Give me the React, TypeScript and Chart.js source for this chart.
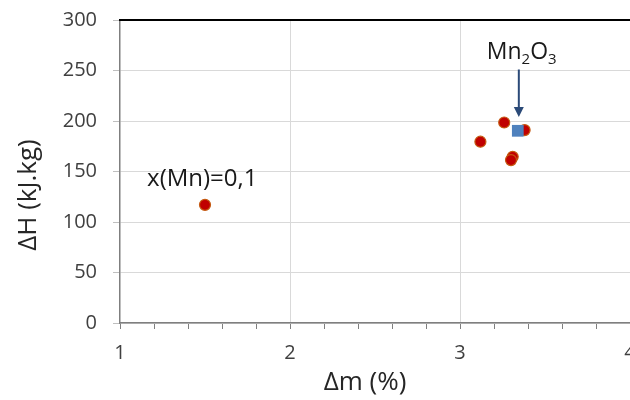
import React, { useEffect, useRef } from "react";
import { Chart, registerables } from "chart.js";

Chart.register(...registerables);

// ---- data ----
const sampleDm = [1.5, 3.12, 3.26, 3.38, 3.31, 3.3];
const sampleDh = [117, 179.5, 198.5, 191, 164.5, 161.3];
const oxideDm = [3.34];
const oxideDh = [190.3];

const xTicksMajor = [1, 2, 3, 4];
const yTickValues = [0, 50, 100, 150, 200, 250, 300];

const xTitle = "Δm (%)";
const yTitle = "ΔH (kJ.kg)";
const labelSample = "x(Mn)=0,1";
const labelOxide = ["Mn", "2", "O", "3"];
const labelSamplePos = { x: 1.484, y: 135.5 };
const labelOxidePos = { x: 3.363, y: 261.5 };
const arrowFrom = { x: 3.346, y: 251 };
const arrowTo = { x: 3.346, y: 204 };

const FONT = "'Open Sans', 'DejaVu Sans', sans-serif";

const isInt = (v: number) => Math.abs(v - Math.round(v)) < 1e-6;

const annotationPlugin = {
  id: "annots",
  afterDraw(chart: any) {
    const { ctx, chartArea, scales } = chart;
    const xs = scales.x;
    const ys = scales.y;
    ctx.save();
    // top frame line
    ctx.strokeStyle = "#000000";
    ctx.lineWidth = 2;
    ctx.beginPath();
    ctx.moveTo(chartArea.left - 1, chartArea.top);
    ctx.lineTo(chartArea.right + 30, chartArea.top);
    ctx.stroke();

    // axis titles
    ctx.fillStyle = "#262626";
    ctx.font = `26px ${FONT}`;
    ctx.textAlign = "center";
    ctx.textBaseline = "middle";
    ctx.fillText(xTitle, 365, 383);
    ctx.save();
    ctx.translate(29, 195);
    ctx.rotate(-Math.PI / 2);
    ctx.fillText(yTitle, 0, 0);
    ctx.restore();

    // sample label
    ctx.fillStyle = "#1a1a1a";
    ctx.font = `24px ${FONT}`;
    ctx.textAlign = "center";
    ctx.textBaseline = "alphabetic";
    ctx.fillText(
      labelSample,
      xs.getPixelForValue(labelSamplePos.x),
      ys.getPixelForValue(labelSamplePos.y)
    );

    // oxide label with subscripts
    const big = `23px ${FONT}`;
    const small = `15px ${FONT}`;
    const parts = labelOxide.map((t, i) => ({ t, f: i % 2 === 0 ? big : small, sub: i % 2 === 1 }));
    let total = 0;
    parts.forEach((p) => {
      ctx.font = p.f;
      total += ctx.measureText(p.t).width;
    });
    let cx = xs.getPixelForValue(labelOxidePos.x) - total / 2;
    const by = ys.getPixelForValue(labelOxidePos.y);
    ctx.textAlign = "left";
    parts.forEach((p) => {
      ctx.font = p.f;
      ctx.fillText(p.t, cx, p.sub ? by + 5 : by);
      cx += ctx.measureText(p.t).width;
    });

    // arrow
    const ax = xs.getPixelForValue(arrowFrom.x);
    const ay1 = ys.getPixelForValue(arrowFrom.y);
    const ay2 = ys.getPixelForValue(arrowTo.y);
    ctx.strokeStyle = "#2b4a78";
    ctx.fillStyle = "#2b4a78";
    ctx.lineWidth = 2;
    ctx.beginPath();
    ctx.moveTo(ax, ay1);
    ctx.lineTo(ax, ay2 - 8);
    ctx.stroke();
    ctx.beginPath();
    ctx.moveTo(ax - 5, ay2 - 10);
    ctx.lineTo(ax + 5, ay2 - 10);
    ctx.lineTo(ax, ay2);
    ctx.closePath();
    ctx.fill();
    ctx.restore();
  },
};

export default function App() {
  const ref = useRef<HTMLCanvasElement | null>(null);
  useEffect(() => {
    if (!ref.current) return;
    const chart = new Chart(ref.current, {
      type: "scatter",
      data: {
        datasets: [
          {
            label: "Mn2O3",
            data: oxideDm.map((x, i) => ({ x, y: oxideDh[i] })),
            pointStyle: "rect",
            pointRadius: 8.3,
            backgroundColor: "#4f81bd",
            borderColor: "#4f81bd",
            borderWidth: 0,
          },
          {
            label: "samples",
            data: sampleDm.map((x, i) => ({ x, y: sampleDh[i] })),
            pointStyle: "circle",
            pointRadius: 5.5,
            backgroundColor: "#c00000",
            borderColor: "#c55a11",
            borderWidth: 1.2,
          },
        ],
      },
      options: {
        responsive: false,
        animation: false,
        devicePixelRatio: 1,
        layout: { padding: { left: 0, top: 20, right: 30, bottom: 0 } },
        plugins: { legend: { display: false }, tooltip: { enabled: false } },
        scales: {
          x: {
            type: "linear",
            min: xTicksMajor[0],
            max: xTicksMajor[xTicksMajor.length - 1],
            afterFit: (s: any) => {
              s.height = 77;
              s.paddingLeft = 0;
              s.paddingRight = 0;
            },
            ticks: {
              stepSize: 0.2,
              autoSkip: false,
              maxRotation: 0,
              padding: 12,
              color: "#404040",
              font: { family: FONT, size: 20 },
              callback: (v: any) => (isInt(Number(v)) ? String(Math.round(Number(v))) : ""),
            },
            grid: {
              color: (c: any) =>
                c.tick && isInt(c.tick.value) && c.tick.value > 1 && c.tick.value < 4
                  ? "#d9d9d9"
                  : "rgba(0,0,0,0)",
              tickColor: "#7f7f7f",
              tickLength: 6,
              lineWidth: 1,
            },
            border: { color: "#7f7f7f", width: 1.5 },
          },
          y: {
            type: "linear",
            min: yTickValues[0],
            max: yTickValues[yTickValues.length - 1],
            afterFit: (s: any) => {
              s.width = 120;
              s.paddingTop = 0;
              s.paddingBottom = 0;
            },
            ticks: {
              stepSize: 50,
              padding: 16,
              color: "#404040",
              font: { family: FONT, size: 20 },
            },
            grid: {
              color: "#d9d9d9",
              tickColor: "#bfbfbf",
              tickLength: 7,
              lineWidth: 1,
            },
            border: { color: "#7f7f7f", width: 1.5 },
          },
        },
      },
      plugins: [annotationPlugin],
    } as any);
    return () => chart.destroy();
  }, []);
  return (
    <div
      style={{
        position: "fixed",
        left: 0,
        top: 0,
        width: 630,
        height: 400,
        overflow: "hidden",
        background: "#ffffff",
      }}
    >
      <canvas ref={ref} width={660} height={400} style={{ display: "block" }} />
    </div>
  );
}
